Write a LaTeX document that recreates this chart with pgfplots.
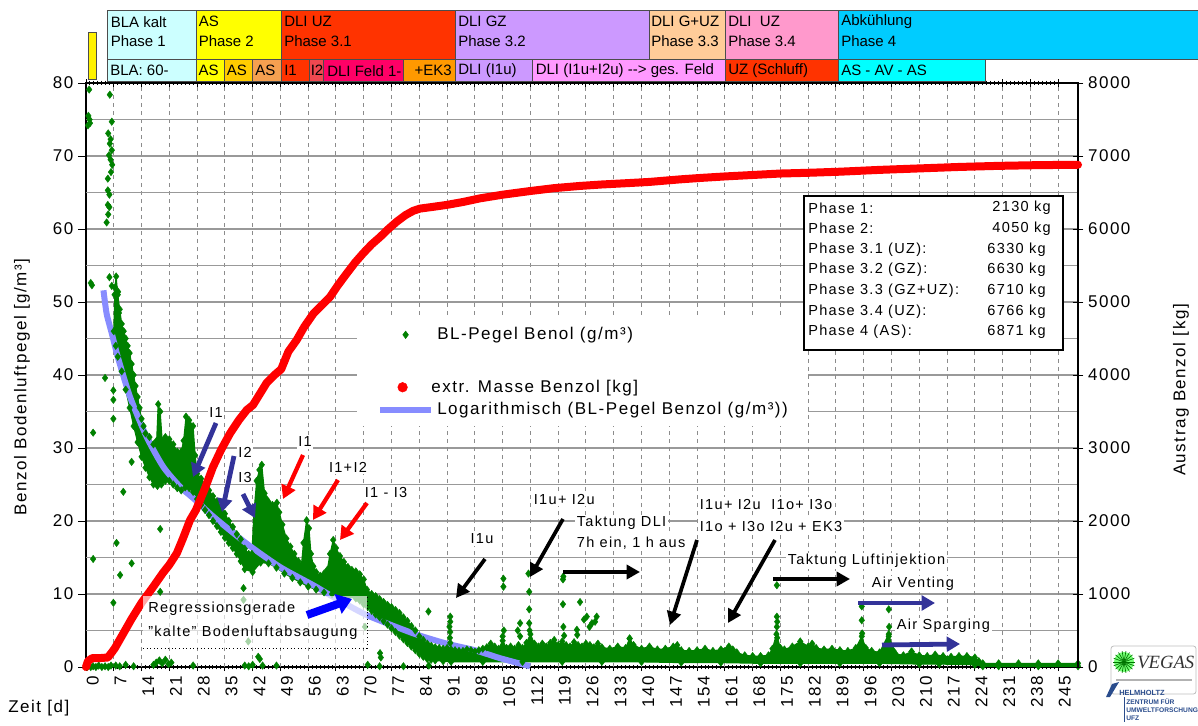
\documentclass[border=0pt]{standalone}
\usepackage{fontspec}
\setmainfont{Liberation Sans}[LetterSpace=9]
\newfontfamily\plainfont{Liberation Sans}
\newfontfamily\serffont{Liberation Serif}
\usepackage{pgfplots}
\pgfplotsset{compat=1.18}
\usepackage{pgfplotstable}
\usetikzlibrary{arrows.meta}

\definecolor{gcol}{HTML}{008000}
\definecolor{bcol}{RGB}{135,140,255}
\definecolor{navy}{HTML}{333399}
\definecolor{cBLA}{HTML}{CCFFFF}
\definecolor{cAS}{HTML}{FFFF00}
\definecolor{cAStwo}{HTML}{FFCC00}
\definecolor{cASthree}{HTML}{F5A050}
\definecolor{cUZ}{HTML}{FF3300}
\definecolor{cItwo}{HTML}{F04850}
\definecolor{cFeld}{HTML}{FF0066}
\definecolor{cEK}{HTML}{FF9900}
\definecolor{cGZ}{HTML}{CC99FF}
\definecolor{cGUZ}{HTML}{FFCC99}
\definecolor{cUZfour}{HTML}{FF99CC}
\definecolor{cAbk}{HTML}{00CCFF}
\definecolor{cAVA}{HTML}{00FFFF}
\definecolor{cPink}{HTML}{FF99FF}
\definecolor{ufz}{HTML}{2A4C8C}

\newcommand\fbig{\fontsize{12.75pt}{15pt}\selectfont}
\newcommand\fmid{\fontsize{10.9pt}{13pt}\selectfont}
\newcommand\fbar{\plainfont\fontsize{11.25pt}{13pt}\selectfont}

% BL-Pegel band: upper edge (increasing day) then lower edge (decreasing day)
\pgfplotstableread{
x y
7 46
7.3 52
7.6 53.5
8 51
8.5 49
9 47
9.5 46
10 45
10.5 44
11 43
11.5 41.5
12 40
12.5 38.5
13 37
13.5 35.5
14 34
14.5 33
15 32
16 31.5
17 30.5
17.8 31
18.2 36
18.7 35
19.2 31
20 31.5
21 31.2
22 30.5
23 29.5
24 29.5
24.6 31
25.2 34.3
26 33.8
27 33
27.5 29
28 26.5
29 25.8
30 25
31 24.2
32 23.4
33 22.7
34 22
35 21
36 20
37 19.2
38 18.2
39 17.5
40 16.2
41 15.5
41.8 15.5
42.3 21
43 25.5
43.7 27
44.3 27.7
45 23.8
45.5 23
46 22.6
47 22.2
47.5 22
48.1 22.5
48.7 21.2
49.5 19.5
50.5 17.6
51.5 16.5
52.5 15.5
53.5 14.5
54.3 14
54.8 17
55.6 20.1
56.2 19
56.7 15.5
57.3 13.8
58 13
59 12.5
60 12.8
60.8 13.3
61.5 15.5
62.3 17.4
63 16.3
64 15.2
65 14.4
66 13.7
67 13.3
68 13.1
69 12.7
70 12
70.8 10.6
72 10
73 9.7
74 9.3
75 8.9
76 8.5
77 8.2
78 7.8
79 7.4
80 6.8
81 6.3
82 5.6
83 5
84 4.2
85 3.7
86 3.2
87 2.9
88 2.7
89 2.6
90 2.5
91 2.6
92 2.4
93 2.3
94 2.2
95 2.2
96 2.4
97 2.3
98 2.1
99 2.3
100 2.5
101 2.7
102 3.2
103 2.8
104 2.5
105 3.6
106 2.6
107 2.8
108 2.5
109 3.0
110 2.6
111 3.3
112 4.5
113 3.2
114 2.8
115 3.2
116 2.8
117 3.3
118 3.7
119 3.0
120 3.5
121 3.0
122 2.8
123 3.4
124 3.0
125 2.8
126 3.2
127 3.0
128 2.7
129 3.2
130 2.7
132 2.5
134 2.8
136 2.6
137 3.9
138 3.0
140 2.5
142 2.8
144 2.4
146 2.5
148 2.8
149 3.0
150 2.3
152 2.2
154 2.3
156 2.5
158 2.2
160 2.4
162 2.8
163 2.4
164 2.0
166 1.6
168 1.5
170 1.5
172 1.6
173 2.5
174 4.5
175 2.6
176 2.4
178 2.8
180 3.5
182 2.8
183 3.2
184 2.6
186 2.4
188 2.5
190 2.3
192 2.2
194 2.6
195.5 4.2
196.5 2.6
198 2.2
200 2.0
202.3 4.5
203.5 2.2
204 1.8
206 1.6
208 2.1
210 1.6
212 1.5
214 1.7
216 1.5
218 1.4
220 1.5
222 1.5
224 1.3
225 0.8
226 0.5
230 0.5
235 0.5
240 0.5
245 0.5
250 0.5
250 0.1
240 0.1
230 0.1
226 0.1
224 0.3
215 0.4
210 0.4
200 0.5
190 0.5
180 0.5
170 0.5
160 0.6
150 0.6
140 0.7
130 0.7
120 0.7
110 0.7
100 0.7
92 0.7
90 0.8
88 0.9
87 1.0
86 1.1
85 1.4
84 1.8
83 2.3
82 2.8
81 3.3
80 3.8
79 4.3
78 4.8
77 5.3
76 5.8
75 6.3
74 6.8
73 7.2
72 7.7
71 8.2
70 8.6
69 9.1
68 9.4
66 9.6
64 9.8
62 10.0
60 10.2
58 10.6
56 11.0
54 11.6
52 12.2
50 12.8
48 13.6
46 14.2
44 14.3
42 13.0
40 13.4
39 14.5
38 15.5
37 16.3
36 17.0
35 17.7
34 18.5
33 19.3
32 20.0
31 20.8
30 21.5
29 22.2
28 23.0
27 24.0
26 24.5
25 24.6
24 24.2
23 24.5
22 25.0
21 25.5
20 25.5
19 25.0
18 24.8
17 25.0
16 26.0
15 27.3
14 28.8
13 30.8
12 33.0
11 35.5
10 38.0
9 40.5
8 42.5
7.5 44
}\band

% BL-Pegel single points (outliers, spikes, near-zero values)
\pgfplotstableread{
x y
0.3 0
0.7 0.2
1.2 0
1.8 0.1
2.5 0
3.2 0.2
4.0 0
4.8 0.1
5.6 0
6.3 0.2
0.8 79.1
0.6 75.5
0.9 75.0
1.0 74.5
0.5 74.2
1.2 52.6
1.5 52.3
1.8 32.1
1.8 14.8
6.0 78.4
6.5 74.7
5.6 73.1
6.2 72.3
6.0 71.7
6.5 70.8
5.8 70.1
6.2 69.5
6.6 68.8
6.3 67.8
5.5 66.9
5.5 65.3
5.9 64.7
5.5 63.3
5.9 63.0
5.6 62.0
5.2 60.9
5.9 53.4
6.5 52.2
7.2 51.0
8.1 51.4
8.3 48.5
4.8 39.6
6.9 37.9
6.9 36.6
6.9 34.0
11.5 28.1
9.4 24.0
18.7 18.9
7.7 17.0
11.5 14.2
8.6 12.6
6.9 8.8
18.7 10.3
39.7 10.8
39.7 9.2
40.9 3.5
43.4 1.4
86.3 7.6
74.1 1.9
70.3 5.5
7.5 0.2
8.5 0.1
10 0.3
12 0.1
17 0.3
17.7 0.6
18.5 0.9
19.2 0.5
20 1.0
20.8 0.4
21.5 0.6
27 0.2
40 0.2
41 0.1
42 0.3
43.8 1.1
44.5 0.2
48 0.2
71 0.3
74.3 1.3
74 0.1
80 0.1
86.4 0.2
91.8 6.9
91.8 6.2
91.6 5.5
91.8 4.8
91.7 4.0
91.8 3.3
105.2 12.1
105.2 11.0
105.3 5.0
105.0 4.2
109.4 6.0
109.4 4.2
108.8 5.0
111.5 12.8
111.7 10.3
111.7 7.9
111.7 6.0
111.8 5.0
120.3 12.4
120.2 12.0
120.2 8.6
120.3 5.5
120.5 4.3
124.5 8.9
123.7 5.1
123.8 4.4
126.2 6.9
126.9 5.5
128.7 6.9
128.3 6.2
127.5 6.0
125.5 6.5
137.0 3.9
174.1 11.2
174.1 6.9
174.2 6.2
174.1 5.5
174.2 4.0
195.5 8.3
195.5 6.4
195.6 4.6
202.3 7.9
202.4 5.5
202.3 4.2
208.1 2.1
}\gout

% logarithmic trend line
\pgfplotstableread{
x y
4.4 51.6
5.2 48.4
6.5 45.7
8.1 42.3
11.1 37.0
15.3 31.5
19.5 27.4
23.7 24.7
27.5 22.9
32.1 20.6
40.5 16.9
48.9 13.7
57.3 11.2
62.3 9.6
70.8 7.1
82.5 4.6
90.9 3.2
98 2.3
104.4 1.2
111.9 0.1
}\logfit

% extracted mass (kg)
\pgfplotstableread{
x y
0 0
0.5 80
1.5 120
3 120
5.5 130
6.5 200
7.3 260
9.4 460
11.5 660
14 880
16.7 1080
19.4 1290
21 1400
22.9 1560
24.5 1770
26.2 2010
27.7 2150
30 2450
32 2740
34 2970
36.3 3200
38.5 3380
40.5 3520
42.1 3590
43.8 3740
45.5 3890
47.5 4000
49.2 4080
51 4320
53.1 4480
55 4660
57.3 4840
59.5 4960
61.5 5070
63.5 5230
65.7 5390
67.8 5540
69.9 5670
72 5790
74.1 5890
76.2 6000
78.3 6100
80.5 6190
82.5 6250
84.2 6280
87 6300
90.9 6330
95 6370
99.3 6420
105 6470
111.9 6520
118 6560
124.5 6590
130 6610
137 6630
142 6645
149.7 6680
155 6700
161 6720
168 6740
175 6760
182 6770
190 6785
200 6810
210 6830
220 6850
230 6865
240 6875
250 6880
}\masse

\begin{document}
\begin{tikzpicture}
\useasboundingbox (0,0) rectangle (898.5pt,543.75pt);

\begin{axis}[
  at={(64.5pt,43.5pt)}, anchor=south west,
  width=744pt, height=438pt, scale only axis,
  xmin=0, xmax=250, ymin=0, ymax=80,
  axis line style={black, line width=0.9pt},
  xtick={0,7,...,245},
  minor x tick num=6,
  xtick pos=both,
  ytick pos=left,
  xtick align=center,
  ytick align=outside,
  major tick length=6pt,
  minor tick length=3.5pt,
  tick style={black, line width=0.75pt},
  ytick={0,10,...,80},
  ymajorgrids,
  grid style={draw=black!40, line width=0.9pt},
  extra y ticks={5,15,...,75},
  extra y tick labels={},
  extra y tick style={major tick length=0pt, ymajorgrids=true},
  extra x ticks={7,14,...,245},
  extra x tick labels={},
  extra x tick style={major tick length=0pt, xmajorgrids=true,
     major grid style={draw=black!45, line width=0.75pt, dash pattern=on 3pt off 3pt}},
  xticklabel style={rotate=90, anchor=east, font=\fbig, yshift=-5pt},
  yticklabel style={font=\fbig},
  /pgf/number format/assume math mode=true,
  /pgf/number format/1000 sep={},
  clip=false,
  legend cell align=left,
  legend style={at={(axis description cs:0.2732,0.5976)}, anchor=north west,
     draw=none, fill=white, inner xsep=15pt, inner ysep=3pt, font=\fbig,
     nodes={inner sep=0pt, text height=13pt, text depth=5.75pt},
     row sep=0pt, column sep=2.5pt},
]
\addplot[gcol, fill=gcol, line width=0.8pt, mark=diamond*, mark size=2.8pt,
   mark options={gcol, fill=gcol, line width=0.3pt}, forget plot] table {\band};
\addplot[only marks, mark=diamond*, mark size=2.8pt,
   mark options={gcol, fill=gcol, line width=0.3pt}, forget plot] table {\gout};
\addplot[bcol, line width=4.5pt, smooth, tension=0.4, forget plot] table {\logfit};

\addlegendimage{legend image code/.code={\path[draw=none] (0pt,0pt) -- (38pt,0pt); \path plot[mark=diamond*, mark size=2.8pt, mark options={gcol, fill=gcol}] coordinates {(19pt,0pt)};}}
\addlegendentry{BL-Pegel Benol (g/m³)}
\addlegendimage{legend image code/.code={\path[draw=none] (0pt,0pt) -- (38pt,0pt);}}
\addlegendentry{}
\addlegendimage{legend image code/.code={\path[draw=none] (0pt,0pt) -- (38pt,0pt);}}
\addlegendentry{}
\addlegendimage{legend image code/.code={\draw[bcol, line width=4.5pt] (0pt,0pt) -- (38pt,0pt);}}
\addlegendentry{Logarithmisch (BL-Pegel Benzol (g/m³))}
\end{axis}

\begin{axis}[
  at={(64.5pt,43.5pt)}, anchor=south west,
  width=744pt, height=438pt, scale only axis,
  xmin=0, xmax=250, ymin=0, ymax=8000,
  axis x line=none,
  axis y line*=right,
  axis line style={black, line width=0.9pt},
  ytick={0,1000,...,8000},
  ytick align=center,
  major tick length=8pt,
  tick style={black, line width=0.75pt},
  yticklabel style={font=\fbig},
  scaled y ticks=false,
  /pgf/number format/assume math mode=true,
  /pgf/number format/1000 sep={},
  clip=false,
  legend cell align=left,
  legend style={at={(axis description cs:0.2732,0.5077)}, anchor=north west,
     draw=none, fill=none, inner xsep=15pt, inner ysep=3pt, font=\fbig,
     nodes={inner sep=0pt, text height=13pt, text depth=5.75pt},
     row sep=0pt, column sep=2.5pt},
]
\addplot[red, line width=6pt, line join=round, line cap=round, forget plot] table {\masse};
\addlegendimage{legend image code/.code={\path[draw=none] (0pt,0pt) -- (38pt,0pt); \path plot[mark=*, mark size=3.6pt, mark options={red, fill=red}] coordinates {(19pt,0pt)};}}
\addlegendentry{extr. Masse Benzol [kg]}
\end{axis}

\begin{scope}[x=0.75pt,y=-0.75pt,shift={(0pt,543.75pt)}]
\tikzset{bar/.style={draw=black!70, line width=0.75pt},
  bt/.style={anchor=west, font=\fbar, inner sep=0pt},
  ann/.style={font=\fmid, fill=white, inner sep=1.2pt},
  arN/.style={draw=navy, line width=3.6pt, -{Triangle[length=10pt,width=11pt]}},
  arR/.style={draw=red, line width=3.2pt, -{Triangle[length=10pt,width=11pt]}},
  arK/.style={draw=black, line width=2.8pt, -{Triangle[length=10pt,width=10.5pt]}},
  arB/.style={draw=blue, line width=6pt, -{Triangle[length=11pt,width=15pt]}}}
% top phase bars
\draw[bar, fill=yellow] (88.7,33) rectangle (96,80);
\draw[bar, fill=cBLA] (107.7,10.7) rectangle (196,60);
\draw[bar, fill=cAS] (196,10.7) rectangle (281,60);
\draw[bar, fill=cUZ] (281,10.7) rectangle (455,60);
\draw[bar, fill=cGZ] (455,10.7) rectangle (649,60);
\draw[bar, fill=cGUZ] (649,10.7) rectangle (725,60);
\draw[bar, fill=cUZfour] (725,10.7) rectangle (838,60);
\draw[bar, fill=cAbk] (838,10.7) rectangle (1205,60);
\node[bt] at (110.5,21.7) {BLA kalt}; \node[bt] at (110.5,40.7) {Phase 1};
\node[bt] at (198.5,21.7) {AS}; \node[bt] at (198.5,40.7) {Phase 2};
\node[bt] at (284,21.7) {DLI UZ}; \node[bt] at (284,40.7) {Phase 3.1};
\node[bt] at (458,21.7) {DLI GZ}; \node[bt] at (458,40.7) {Phase 3.2};
\node[bt] at (651,21.7) {DLI G+UZ}; \node[bt] at (651,40.7) {Phase 3.3};
\node[bt] at (728,21.7) {DLI\ \ UZ}; \node[bt] at (728,40.7) {Phase 3.4};
\node[bt] at (841,21.7) {Abkühlung}; \node[bt] at (841,40.7) {Phase 4};
\draw[bar, fill=cBLA] (107.7,60) rectangle (196,81.7);
\draw[bar, fill=cAS] (196,60) rectangle (224,81.7);
\draw[bar, fill=cAStwo] (224,60) rectangle (252.7,81.7);
\draw[bar, fill=cASthree] (252.7,60) rectangle (281,81.7);
\draw[bar, fill=cUZ] (281,60) rectangle (309,81.7);
\draw[bar, fill=cItwo] (309,60) rectangle (323,81.7);
\draw[bar, fill=cFeld] (323,60) rectangle (403,81.7);
\draw[bar, fill=cEK] (403,60) rectangle (455,81.7);
\draw[bar, fill=cGZ] (455,60) rectangle (532,81.7);
\draw[bar, fill=cPink] (532,60) rectangle (725,81.7);
\draw[bar, fill=cUZ] (725,60) rectangle (838,81.7);
\draw[bar, fill=cAVA] (838,60) rectangle (985,81.7);
\node[bt] at (110,70.7) {BLA: 60-};
\node[bt] at (198.3,70.7) {AS};
\node[bt] at (226.5,70.7) {AS};
\node[bt] at (255,70.7) {AS};
\node[bt] at (284,70.7) {I1};
\node[bt] at (310.5,70.7) {I2};
\node[bt] at (327,70.7) {DLI Feld 1-};
\node[bt, anchor=east] at (452,70.7) {+EK3};
\node[bt] at (458,70.7) {DLI (I1u)};
\node[bt] at (535.5,70.7) {DLI (I1u+I2u) -\kern0pt-\kern0pt> ges. Feld};
\node[bt] at (728,70.7) {UZ (Schluff)};
\node[bt] at (841,70.7) {AS - AV - AS};

% axis titles
\node[rotate=90, font=\fbig] at (22,387) {Benzol Bodenluftpegel [g/m³]};
\node[rotate=90, font=\fbig] at (1181,390) {Austrag Benzol [kg]};
\node[anchor=west, font=\fbig, inner sep=0pt] at (8,708) {Zeit [d]};

% phase summary box
\draw[black, line width=0.9pt, fill=white] (804,196) rectangle (1063,350);
\tikzset{pl/.style={anchor=west, font=\fmid, inner sep=0pt}, pr/.style={anchor=east, font=\fmid, inner sep=0pt}}
\node[pl] at (808,208) {Phase 1:}; \node[pr] at (1051,208) {2130 kg};
\node[pl] at (808,228.7) {Phase 2:}; \node[pr] at (1051,228.7) {4050 kg};
\node[pl] at (808,249.4) {Phase 3.1 (UZ):}; \node[pr] at (1046,249.4) {6330 kg};
\node[pl] at (808,270.1) {Phase 3.2 (GZ):}; \node[pr] at (1046,270.1) {6630 kg};
\node[pl] at (808,290.8) {Phase 3.3 (GZ+UZ):}; \node[pr] at (1046,290.8) {6710 kg};
\node[pl] at (808,311.5) {Phase 3.4 (UZ):}; \node[pr] at (1046,311.5) {6766 kg};
\node[pl] at (808,332.2) {Phase 4 (AS):}; \node[pr] at (1046,332.2) {6871 kg};

% regression box
\fill[white, opacity=0.65] (143,596) rectangle (367,648);
\draw[black, dotted, line width=0.7pt] (143,648) -- (367,648) -- (367,597);
\node[anchor=west, font=\fmid, inner sep=0pt] at (148,609) {Regressionsgerade};
\node[anchor=west, font=\fmid, inner sep=0pt] at (148,633) {"kalte" Bodenluftabsaugung};
\draw[arB] (307,615) -- (352,599);

% annotations
\node[ann] at (216,413) {I1};
\node[ann] at (245,452) {I2};
\node[ann] at (245,477) {I3};
\node[ann] at (305,442) {I1};
\node[ann] at (348,467) {I1+I2};
\node[ann] at (386,492) {I1 - I3};
\node[ann] at (482,539) {I1u};
\node[ann, anchor=west] at (532,499) {I1u+ I2u};
\node[ann, anchor=west] at (575,523) {Taktung DLI};
\node[ann, anchor=west] at (575,543) {7h ein, 1 h aus};
\node[ann, anchor=west] at (698,504) {I1u+ I2u\ \ I1o+ I3o};
\node[ann, anchor=west] at (698,526) {I1o + I3o I2u + EK3};
\node[ann, anchor=west] at (786,561) {Taktung Luftinjektion};
\node[ann, anchor=west] at (870,584) {Air Venting};
\node[ann, anchor=west] at (895,626) {Air Sparging};

\draw[arN] (216,423) -- (193,477);
\draw[arN] (234,456) -- (222,512);
\draw[arN] (243,494) -- (255,518);
\draw[arR] (303,455) -- (283,499);
\draw[arR] (338,480) -- (313,520);
\draw[arR] (367,503) -- (340,540);
\draw[arK] (485,559) -- (456,598);
\draw[arK] (563,519) -- (530,577);
\draw[arK] (563,572) -- (640,572);
\draw[arK] (697,540) -- (670,625);
\draw[arK] (775,540) -- (728,623);
\draw[arK] (773,579) -- (850,579);
\draw[arN] (858,603) -- (935,603);
\draw[arN] (882,645) -- (960,644);

% logos
\draw[black!25, line width=0.6pt, rounded corners=2pt, fill=white] (1111,646) rectangle (1196,694);
\fill[green!55] (1124,662) circle (10);
\foreach \a in {0,20,...,340} \draw[green!45!black, line width=0.5pt] (1124,662) -- ++(\a:11);
\node[anchor=west, font=\serffont\itshape\fontsize{14pt}{16pt}\selectfont, text=black!80, inner sep=0pt] at (1137,662) {VEGAS};
\draw[black!30, line width=0.8pt] (1116,680) -- (1192,680);
\fill[ufz] (1106,697) -- (1112,684) -- (1119,682) -- (1110,697) -- cycle;
\node[anchor=west, font=\plainfont\bfseries\fontsize{5.6pt}{6pt}\selectfont, text=ufz, inner sep=0pt] at (1119,693) {HELMHOLTZ};
\draw[ufz, line width=0.5pt] (1124,697) -- (1124,722);
\node[anchor=west, font=\plainfont\bfseries\fontsize{5pt}{6pt}\selectfont, text=ufz, inner sep=0pt] at (1126,702) {ZENTRUM FÜR};
\node[anchor=west, font=\plainfont\bfseries\fontsize{5pt}{6pt}\selectfont, text=ufz, inner sep=0pt] at (1126,710) {UMWELTFORSCHUNG};
\node[anchor=west, font=\plainfont\bfseries\fontsize{5pt}{6pt}\selectfont, text=ufz, inner sep=0pt] at (1126,718) {UFZ};
\end{scope}
\end{tikzpicture}
\end{document}
